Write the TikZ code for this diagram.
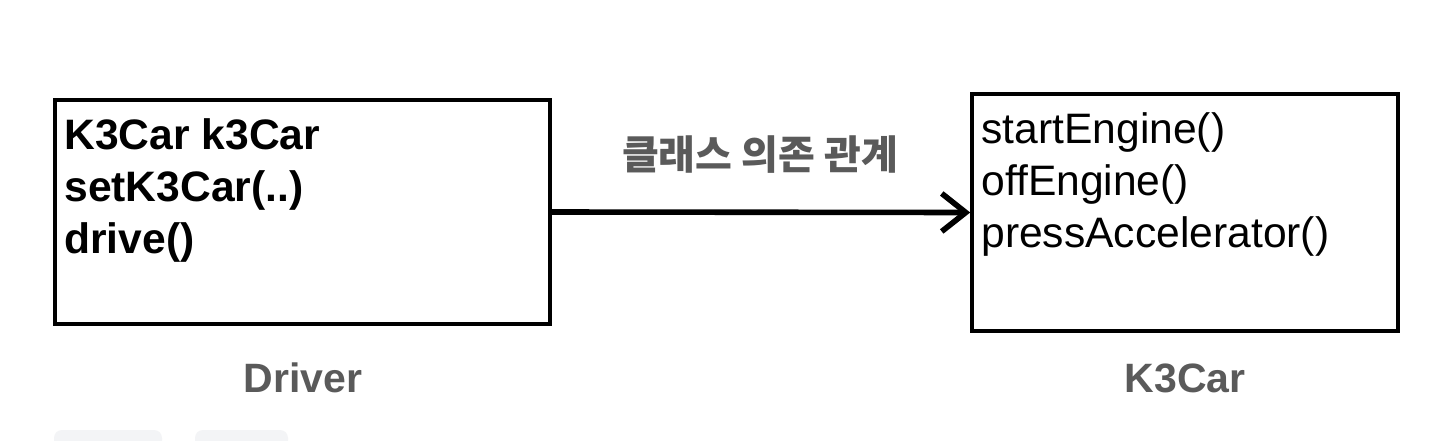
\documentclass[tikz,border=0pt]{standalone}
\usepackage{fontspec}
\setmainfont{Liberation Sans}
\newfontfamily\krfont{Noto Sans CJK KR}
\usetikzlibrary{arrows.meta}
\definecolor{labelgrey}{RGB}{90,90,90}
\definecolor{chipgrey}{RGB}{243,244,246}
\tikzset{
  classbox/.style={draw=black, line width=1.75pt, fill=white, inner sep=0pt},
  members/.style={anchor=north west, align=left, inner sep=0pt, text=black},
  caption/.style={text=labelgrey, font=\bfseries\fontsize{20.5}{24}\selectfont, inner sep=0pt},
  deparrow/.style={line width=2.8pt, -{Straight Barb[length=12pt,width=19pt,line width=2.8pt]}},
  chip/.style={fill=chipgrey, rounded corners=4pt, draw=none}
}
\begin{document}
\begin{tikzpicture}[x=0.5pt,y=-0.5pt]
\useasboundingbox (0,0) rectangle (1448,440);
\clip (0,0) rectangle (1448,440);
\fill[white] (0,0) rectangle (1448,440);
% faint chips at the bottom
\path[chip] (54,430) rectangle (162,460);
\path[chip] (195,430) rectangle (288,460);
% boxes
\node[classbox, minimum width=247.5pt, minimum height=112pt] (driver) at (302.5,212) {};
\node[classbox, minimum width=213pt, minimum height=118.5pt] (k3car) at (1185,212.5) {};
% members
\node[members, font=\bfseries\fontsize{21.3}{26}\selectfont] (drivermembers) at (64,118)
  {K3Car k3Car\\setK3Car(..)\\drive()};
\node[members, font=\fontsize{21.3}{26}\selectfont] (carmembers) at (981,112)
  {startEngine()\\offEngine()\\pressAccelerator()};
% dependency arrow
\draw[deparrow] (driver.east) -- (k3car.west);
\node[text=labelgrey, inner sep=0pt, font=\krfont\bfseries\fontsize{20}{24}\selectfont] (deplabel) at (760,155) {클래스 의존 관계};
% captions
\node[caption] (drivercap) at (303,378) {Driver};
\node[caption] (carcap) at (1185,378) {K3Car};
\end{tikzpicture}
\end{document}
